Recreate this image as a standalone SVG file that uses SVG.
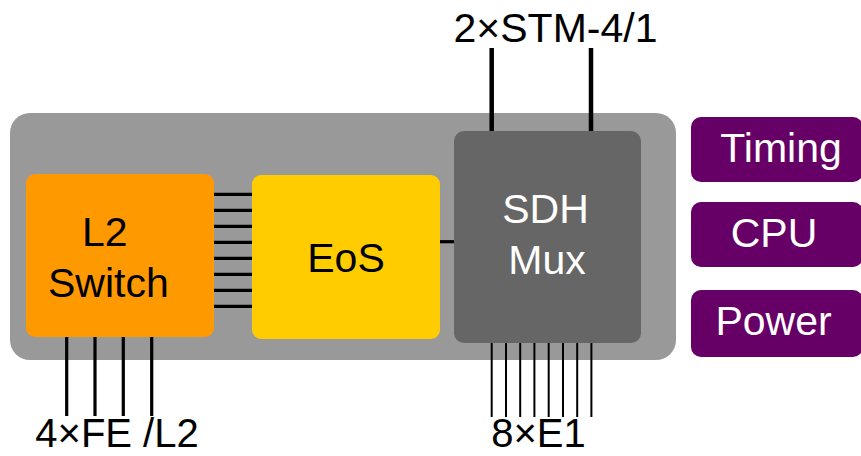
<svg xmlns="http://www.w3.org/2000/svg" width="861" height="456" viewBox="0 0 861 456">
<style>
text{font-family:"Liberation Sans",Arial,sans-serif;font-size:41px}
.dark{fill:#000}
.light{fill:#fff}
.thick{stroke:#000;stroke-width:3.2;fill:none}
.thin{stroke:#000;stroke-width:2;fill:none}
.top{stroke:#000;stroke-width:4.5;fill:none}
.bot{font-size:40px}
</style>
<rect width="861" height="456" fill="#fff"/>
<g id="chassis"><rect x="10" y="113" width="666" height="247" rx="20" fill="#999999"/></g>
<g id="connectors">
<path class="thick" d="M214 194.3H252M214 210.3H252M214 226.3H252M214 242.3H252M214 258.3H252M214 274.3H252M214 290.3H252M214 306.3H252"/>
<path class="thick" d="M440 241.7H454"/>
<path class="top" d="M491.7 48V131M591 48V131"/>
<path class="thin" d="M491.7 343V417M506 343V417M520.2 343V417M534.4 343V417M548.7 343V417M563 343V417M577.2 343V417M591.4 343V417"/>
<path class="thick" d="M66.7 337V416M95 337V416M123.3 337V416M151.7 337V416"/>
</g>
<g id="l2switch"><rect x="26" y="174" width="188" height="163" rx="9" fill="#FF9900"/>
<text class="dark" x="82" y="246">L2</text><text class="dark" x="48" y="297">Switch</text></g>
<g id="eos"><rect x="252" y="175" width="188" height="164" rx="9" fill="#FFCC00"/>
<text class="dark" x="346" y="272" text-anchor="middle">EoS</text></g>
<g id="sdhmux"><rect x="454" y="131" width="187" height="212" rx="10" fill="#666666"/>
<text class="light" x="545.5" y="223" text-anchor="middle">SDH</text><text class="light" x="547" y="273.5" text-anchor="middle">Mux</text></g>
<g id="timing"><rect x="691" y="117" width="172" height="65" rx="10" fill="#660066"/>
<text class="light" x="781" y="162" text-anchor="middle">Timing</text></g>
<g id="cpu"><rect x="691" y="202" width="172" height="65" rx="10" fill="#660066"/>
<text class="light" x="774" y="247" text-anchor="middle">CPU</text></g>
<g id="power"><rect x="691" y="290" width="172" height="67" rx="10" fill="#660066"/>
<text class="light" x="773.5" y="335" text-anchor="middle">Power</text></g>
<g id="labels">
<text class="dark" x="555.5" y="42" text-anchor="middle">2×STM-4/1</text>
<text class="dark bot" x="538.5" y="447" text-anchor="middle">8×E1</text>
<text class="dark bot" x="117" y="447" text-anchor="middle">4×FE /L2</text>
</g>
</svg>
